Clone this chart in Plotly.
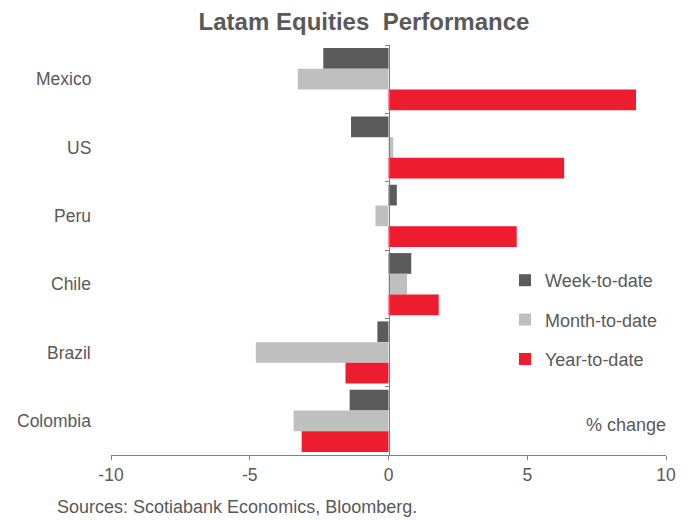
import plotly.graph_objects as go

categories = ["Mexico", "US", "Peru", "Chile", "Brazil", "Colombia"]
week_to_date = [-2.35, -1.35, 0.3, 0.82, -0.4, -1.4]
month_to_date = [-3.27, 0.17, -0.47, 0.67, -4.78, -3.42]
year_to_date = [8.92, 6.33, 4.62, 1.81, -1.55, -3.13]
series_names = ["Week-to-date", "Month-to-date", "Year-to-date"]
series_colors = ["#5b5b5b", "#bfbfbf", "#ed1c2e"]
x_ticks = [-10, -5, 0, 5, 10]

FONT = "Liberation Sans, Arial, sans-serif"
GREY = "#595959"
W, H = 686, 512
L, T, PW, PH = 103, 37, 555, 410

fig = go.Figure()
for name, vals, col in zip(series_names, [week_to_date, month_to_date, year_to_date], series_colors):
    fig.add_trace(go.Bar(
        y=categories, x=vals, name=name, orientation="h",
        marker=dict(color=col, line=dict(width=0)),
        legendgroup=name,
    ))

for c in categories:
    fig.add_annotation(x=0, xref="paper", xanchor="right", xshift=-18,
                       y=c, yref="y", text=c, showarrow=False,
                       font=dict(family=FONT, size=17.5, color=GREY))

fig.add_annotation(x=(668 - 111) / PW, xref="paper", xanchor="right",
                   y=(455 - 425) / PH, yref="paper", yanchor="middle",
                   text="% change", showarrow=False,
                   font=dict(family=FONT, size=18, color=GREY))
fig.add_annotation(x=(55 - 111) / PW, xref="paper", xanchor="left",
                   y=(455 - 507) / PH, yref="paper", yanchor="middle",
                   text="Sources: Scotiabank Economics, Bloomberg.", showarrow=False,
                   font=dict(family=FONT, size=18, color=GREY))

fig.update_layout(
    width=W, height=H,
    margin=dict(l=L, r=W - L - PW, t=T, b=H - T - PH),
    paper_bgcolor="white", plot_bgcolor="white",
    barmode="group", bargap=0.09, bargroupgap=0,
    title=dict(text="<b>Latam Equities  Performance</b>", x=356 / W, xanchor="center",
               y=1 - 14 / H, yanchor="middle",
               font=dict(family=FONT, size=24, color=GREY)),
    font=dict(family=FONT, size=17.5, color=GREY),
    showlegend=True,
    legend=dict(x=(505 - 111) / PW, xanchor="left", y=(455 - 262) / PH, yanchor="top",
                font=dict(family=FONT, size=18, color=GREY),
                tracegroupgap=13, bgcolor="rgba(0,0,0,0)", itemwidth=30),
    xaxis=dict(range=[-10, 10], tickvals=x_ticks, ticktext=[str(t) for t in x_ticks],
               showgrid=False, zeroline=False, showline=True, linecolor="#808080",
               linewidth=1, ticks="outside", ticklen=4, tickcolor="#808080",
               tickfont=dict(family=FONT, size=17.5, color=GREY)),
    yaxis=dict(categoryorder="array", categoryarray=categories, autorange="reversed",
               showgrid=False, zeroline=False, showline=True, linecolor="#808080",
               linewidth=1, anchor="free", position=0.5, ticks="outside",
               tickson="boundaries", ticklen=4, tickcolor="#808080",
               showticklabels=False),
)

fig.write_html("out.html")
